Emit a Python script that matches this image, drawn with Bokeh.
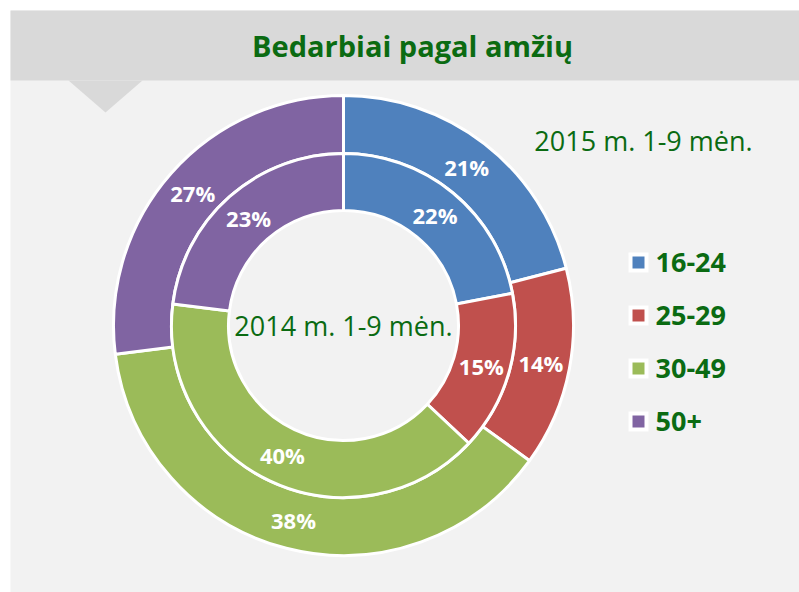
import math
from bokeh.plotting import figure
from bokeh.models import Range1d, ColumnDataSource
from bokeh.core.properties import value
from bokeh.embed import file_html
from bokeh.resources import INLINE

# ---- data ----
categories = ["16-24", "25-29", "30-49", "50+"]
colors = ["#4f81bd", "#c0504d", "#9bbb59", "#8064a2"]
values_2015 = [21, 14, 38, 27]   # outer ring
values_2014 = [22, 15, 40, 23]   # inner ring
title = "Bedarbiai pagal amžių"
label_2015 = "2015 m. 1-9 mėn."
label_2014 = "2014 m. 1-9 mėn."

W, H = 799, 592
GREEN = "#0b6b12"
FONT = "Open Sans"

p = figure(width=W, height=H, output_backend="svg", toolbar_location=None,
           x_range=Range1d(0, W), y_range=Range1d(0, H), min_border=0)
p.axis.visible = False
p.xgrid.visible = False
p.ygrid.visible = False
p.outline_line_color = None
p.background_fill_color = "white"
p.border_fill_color = "white"

def Y(sy):  # pixel (top-down) -> data y
    return H - sy

# panel
p.quad(left=10, right=W, bottom=0, top=Y(10), fill_color="#f2f2f2", line_color=None)
# header band
p.quad(left=10, right=W, bottom=Y(80), top=Y(10), fill_color="#d9d9d9", line_color=None)
# pointer triangle
p.patch(x=[68, 142, 105], y=[Y(80), Y(80), Y(112)], fill_color="#d9d9d9", line_color=None)

p.text(x=[412], y=[Y(45)], text=[title], text_color=GREEN, text_font=value(FONT),
       text_font_style="bold", text_font_size="29px", text_align="center",
       text_baseline="middle")

cx, cy = 343, Y(325)
r_hole, r_mid, r_out = 115, 172, 230

def ring(vals, r0, r1):
    tot = float(sum(vals))
    starts, ends, lx, ly, labels = [], [], [], [], []
    cum = 0.0
    for v in vals:
        a0 = math.pi / 2 - 2 * math.pi * (cum + v) / tot
        a1 = math.pi / 2 - 2 * math.pi * cum / tot
        starts.append(a0)
        ends.append(a1)
        mid = (a0 + a1) / 2
        rm = (r0 + r1) / 2
        lx.append(cx + rm * math.cos(mid))
        ly.append(cy + rm * math.sin(mid))
        labels.append(f"{v}%")
        cum += v
    src = ColumnDataSource(dict(start=starts, end=ends, color=colors))
    p.annular_wedge(x=cx, y=cy, inner_radius=r0, outer_radius=r1,
                    start_angle="start", end_angle="end", direction="anticlock",
                    fill_color="color", line_color="white", line_width=3,
                    source=src)
    p.text(x=lx, y=ly, text=labels, text_color="white", text_font=value(FONT),
           text_font_style="bold", text_font_size="22px", text_align="center",
           text_baseline="middle")

ring(values_2015, r_mid, r_out)
ring(values_2014, r_hole, r_mid)

p.text(x=[cx], y=[cy], text=[label_2014], text_color=GREEN, text_font=value(FONT),
       text_font_size="27px", text_align="center", text_baseline="middle")
p.text(x=[643], y=[Y(140)], text=[label_2015], text_color=GREEN, text_font=value(FONT),
       text_font_size="27px", text_align="center", text_baseline="middle")

# legend
ly0 = [Y(262 + 53 * i) for i in range(len(categories))]
p.rect(x=[638] * 4, y=ly0, width=20, height=20, fill_color="white", line_color=None)
p.rect(x=[638] * 4, y=ly0, width=12, height=12, fill_color=colors, line_color=None)
p.text(x=[655] * 4, y=ly0, text=categories, text_color=GREEN, text_font=value(FONT),
       text_font_style="bold", text_font_size="27px", text_align="left",
       text_baseline="middle")

open("out.html", "w").write(file_html(p, INLINE))
